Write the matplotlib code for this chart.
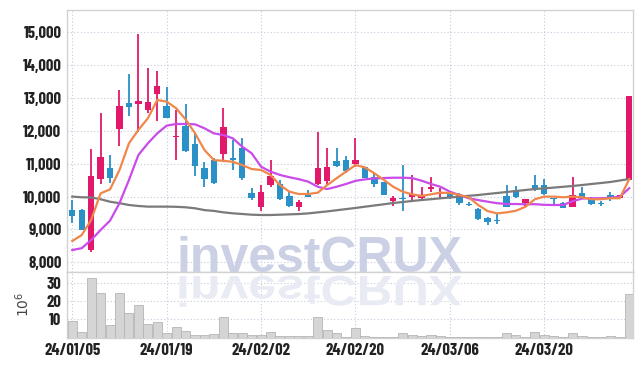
import matplotlib
matplotlib.use('Agg')
import matplotlib.pyplot as plt
import numpy as np
from matplotlib.textpath import TextPath
from matplotlib.patches import PathPatch
from matplotlib.font_manager import FontProperties
from matplotlib.transforms import Affine2D, IdentityTransform
from matplotlib.ticker import FuncFormatter

# daily candles, 24/01/05 .. 24/04/02
opens = [9590, 9590, 8380, 10545, 10880, 12070, 12850, 12810, 12640, 13110,
         12760, 11805, 12150, 11600, 10860, 11115, 11300, 11175, 11470, 10100,
         9675, 10355, 10375, 10020, 9675, 10050, 10375, 10475, 11075, 11115,
         10985, 10890, 10590, 10455, 9865, 9960, 10000, 9960, 10220, 10070,
         10110, 10050, 9780, 9615, 9360, 9280, 10020, 10200, 9815, 10355,
         10355, 9935, 9815, 9695, 10100, 9950, 9800, 10050, 9965, 10505]
closes = [9420, 8980, 10640, 11205, 10575, 12760, 12740, 12910, 12880, 13370,
          12400, 11845, 11390, 10940, 10540, 10425, 12130, 11125, 10560, 9965,
          10150, 10625, 9925, 9725, 9835, 9990, 10860, 10890, 10930, 10780,
          11115, 10575, 10375, 10050, 9950, 9930, 10080, 10030, 10300, 10150,
          9950, 9815, 9760, 9320, 9235, 9260, 9695, 9980, 9925, 10200,
          10070, 9920, 9665, 10050, 9980, 9765, 9785, 9920, 10050, 13060]
highs = [9900, 9610, 11440, 12535, 11270, 13240, 13730, 14950, 13900, 13830,
         13345, 12640, 12810, 11930, 11045, 11165, 12690, 11725, 11775, 10255,
         10355, 11115, 10505, 10180, 9895, 10200, 11975, 11470, 11470, 11235,
         11775, 10910, 10710, 10455, 10020, 10960, 10660, 10300, 10590, 10255,
         10140, 10100, 9850, 9645, 9390, 9490, 10355, 10325, 9925, 10660,
         10525, 9940, 9845, 10605, 10300, 9980, 9875, 10130, 10060, 13060]
lows = [9210, 8980, 8300, 10375, 10400, 11550, 12460, 11960, 12535, 12310,
        12400, 11105, 11350, 10640, 10300, 10385, 11060, 10810, 10505, 9895,
        9570, 10300, 9895, 9695, 9570, 9990, 10355, 10355, 10910, 10710,
        10910, 10555, 10300, 10050, 9715, 9560, 9895, 9895, 10150, 9950,
        9940, 9745, 9700, 9290, 9135, 9165, 9675, 9950, 9695, 10180,
        10050, 9715, 9645, 9675, 9950, 9750, 9725, 9875, 9950, 10505]

ma_short = [8650, 8830, 9290, 10100, 10220, 10810, 11620, 12030, 12380, 12940,
            12890, 12690, 12350, 11930, 11420, 11110, 11090, 11060, 10960, 10840,
            10810, 10660, 10350, 10150, 10080, 10080, 10120, 10350, 10560, 10760,
            10960, 10890, 10710, 10510, 10300, 10150, 10070, 10020, 10070, 10120,
            10110, 10050, 9980, 9745, 9560, 9490, 9520, 9570, 9690, 9920,
            10000, 10000, 9980, 10000, 9980, 9920, 9920, 9950, 9950, 10530]
ma_mid = [8375, 8430, 8680, 8985, 9270, 9800, 10505, 11265, 11620, 11925,
          12160, 12210, 12210, 12200, 12080, 11925, 11875, 11775, 11520, 11320,
          10910, 10760, 10660, 10590, 10530, 10455, 10300, 10230, 10300, 10385,
          10480, 10525, 10555, 10565, 10575, 10575, 10565, 10485, 10385, 10300,
          10150, 10050, 9950, 9895, 9845, 9800, 9775, 9775, 9765, 9770,
          9750, 9745, 9745, 9860, 9940, 9950, 9950, 9965, 9995, 10255]
ma_long = [10000, 9980, 9975, 9920, 9845, 9800, 9745, 9715, 9695, 9695,
           9695, 9690, 9675, 9645, 9590, 9565, 9522, 9492, 9471, 9450,
           9440, 9440, 9450, 9460, 9470, 9490, 9520, 9550, 9585, 9620,
           9655, 9693, 9730, 9766, 9806, 9836, 9867, 9897, 9921, 9949,
           9973, 9997, 10025, 10049, 10080, 10110, 10140, 10171, 10201, 10232,
           10253, 10274, 10299, 10323, 10353, 10384, 10414, 10445, 10490, 10536]

volume = [9.1, 2.9, 32.4, 24.2, 6.9, 24.2, 13.3, 17.8, 7.4, 8.4,
          2.3, 5.6, 3.6, 1.3, 1.3, 2.0, 11.1, 2.3, 2.3, 1.3,
          1.3, 2.9, 0.7, 0.7, 0.7, 0.7, 11.1, 4.2, 2.3, 0.5,
          5.1, 1.0, 0.5, 0.5, 0.5, 2.3, 1.3, 1.0, 1.3, 0.7,
          0.3, 0.3, 0.3, 0.3, 0.3, 0.3, 2.3, 1.5, 0.5, 2.9,
          1.5, 0.7, 0.5, 2.3, 1.0, 0.3, 0.3, 0.7, 0.3, 23.7]

tick_pos = [0, 10, 20, 30, 40, 50]
tick_labels = ['24/01/05', '24/01/19', '24/02/02', '24/02/20', '24/03/06', '24/03/20']
price_ticks = [8000, 9000, 10000, 11000, 12000, 13000, 14000, 15000]
vol_ticks = [10, 20, 30]

UP = '#E2186A'
DOWN = '#2A90C8'
GRID = '#C5CADC'
EDGE = '#D2D2D2'

plt.rcParams['font.family'] = ['Barlow Condensed', 'DejaVu Sans']

W, H = 642, 366
fig = plt.figure(figsize=(W / 100, H / 100), dpi=100)
ax = fig.add_axes([67 / W, 1 - 272 / H, 566 / W, 262 / H])
axv = fig.add_axes([67 / W, 1 - 337.6 / H, 566 / W, 65.6 / H], sharex=ax)

x = np.arange(len(opens))
o = np.array(opens)
c = np.array(closes)
colors = [UP if cc >= oo else DOWN for oo, cc in zip(o, c)]
body_lo = np.minimum(o, c)
body_h = np.maximum(np.abs(c - o), 30)

ax.vlines(x, lows, highs, colors=colors, lw=1.3, zorder=3)
ax.bar(x, body_h, bottom=body_lo, width=0.68, color=colors, zorder=4)

ax.plot(x, ma_long, color='#7A7A7A', lw=1.6, zorder=5)
ax.plot(x, ma_mid, color='#C94BEA', lw=1.6, zorder=5)
ax.plot(x, ma_short, color='#F0874A', lw=1.6, zorder=6)

axv.bar(x, volume, width=0.96, color='#D5D5D5', edgecolor='#B5B5B5', lw=0.6, zorder=3)

ax.set_xlim(-0.56, 59.4)
ax.set_ylim(7706, 15679)
axv.set_ylim(0, 35.8)

ax.set_yticks(price_ticks)
ax.yaxis.set_major_formatter(FuncFormatter(lambda v, p: f'{int(v):,}'))
axv.set_yticks(vol_ticks)
axv.set_xticks(tick_pos)
axv.set_xticklabels(tick_labels)
ax.tick_params(axis='x', labelbottom=False)

for a in (ax, axv):
    a.grid(True, color=GRID, lw=0.8, linestyle=(0, (1, 2)), zorder=0)
    a.set_axisbelow(True)
    a.tick_params(length=0, labelsize=12, colors='#222222', pad=4)
    for lab in a.get_xticklabels() + a.get_yticklabels():
        lab.set_fontweight('bold')
    for s in a.spines.values():
        s.set_color(EDGE)
        s.set_linewidth(1)

axv.set_ylabel(r'$10^6$', fontsize=10, color='#444444')
axv.yaxis.set_label_coords(-0.062, 0.5)

# watermark, with a faint mirrored copy under the baseline
base = H - 272
ax.text(176, base, 'investCRUX', transform=IdentityTransform(), ha='left', va='baseline',
        fontsize=36, fontweight='bold', family='Liberation Sans', color='#CBD0E5',
        zorder=1, clip_on=True)
fp = FontProperties(family='Liberation Sans', weight='bold')
tp = TextPath((0, 0), 'investCRUX', size=50, prop=fp)
refl = Affine2D().scale(1, -0.85).translate(176, base - 4)
axv.add_patch(PathPatch(tp, transform=refl + IdentityTransform(),
                        facecolor='#E9EBF4', edgecolor='none', zorder=1))

fig.savefig('out.png', dpi=100)
